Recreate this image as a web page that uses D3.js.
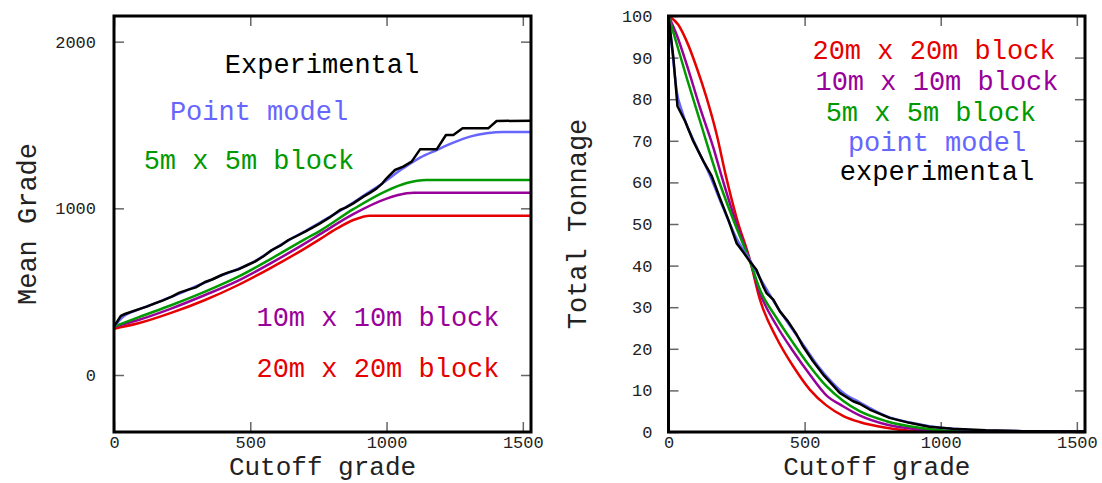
<!DOCTYPE html>
<html>
<head>
<meta charset="utf-8">
<script src="https://cdn.jsdelivr.net/npm/d3@7"></script>
<style>
  body { margin: 0; background: #fff; }
  text { font-family: "Liberation Mono", "DejaVu Sans Mono", monospace; }
</style>
</head>
<body>
<div id="chart"></div>
<script>
// ---- data ----
const xTicks = [0, 500, 1000, 1500];
const gradeTicks = [0, 1000, 2000];
const tonnageTicks = [0, 10, 20, 30, 40, 50, 60, 70, 80, 90, 100];

// left panel: mean grade above cutoff  [cutoff, grade]
const gradeExperimental = [[0,290],[25,355],[40,366],[89,394],[120,410],[150,430],[180,448],[212,470],[240,494],[273,512],[300,526],[334,558],[360,573],[395,600],[420,616],[456,634],[490,660],[517,680],[550,714],[579,750],[610,776],[640,810],[670,834],[701,860],[730,886],[756,910],[790,944],[829,990],[850,1004],[878,1030],[915,1070],[940,1094],[964,1120],[985,1150],[1000,1180],[1031,1230],[1061,1250],[1092,1280],[1123,1354],[1184,1354],[1218,1440],[1245,1440],[1279,1480],[1373,1480],[1404,1524],[1530,1526]];
const gradePoint = [[0,290],[30,345],[89,392],[150,430],[212,470],[273,512],[334,555],[395,598],[456,636],[517,683],[579,748],[640,808],[701,862],[756,915],[829,985],[878,1035],[915,1075],[976,1140],[1061,1240],[1123,1304],[1184,1350],[1245,1394],[1306,1430],[1367,1450],[1428,1458],[1530,1458]];
const grade5m = [[0,290],[89,346],[212,420],[334,500],[456,590],[579,700],[701,815],[756,865],[878,995],[1000,1105],[1074,1152],[1147,1170],[1530,1170]];
const grade10m = [[0,290],[89,330],[212,400],[334,480],[456,566],[579,674],[701,790],[756,845],[878,965],[1000,1058],[1074,1090],[1100,1093],[1530,1093]];
const grade20m = [[0,278],[89,310],[212,374],[334,450],[456,540],[579,646],[701,760],[756,815],[817,878],[878,930],[939,956],[1530,956]];

// right panel: total tonnage above cutoff  [cutoff, tonnage]
const tonExperimental = [[0,100],[18,89.9],[33,78.3],[61,74.7],[91,69.9],[128,65.1],[159,61.5],[189,56.2],[220,51],[250,45.4],[275,43.2],[299,41.0],[323,39.0],[348,35.0],[360,33.4],[385,31.8],[409,29.0],[439,26.6],[470,23.5],[494,20.6],[531,17.0],[568,13.8],[600,11.5],[629,9.4],[678,7.4],[702,6.8],[739,5.4],[812,3.4],[885,2.2],[958,1.25],[1044,0.8],[1166,0.4],[1300,0.2],[1530,0.1]];
const tonPoint = [[0,100],[15,91],[30,82],[50,77],[100,69],[150,62],[200,54],[250,46.5],[300,41.2],[350,35.4],[400,30],[450,25.2],[500,20.5],[550,15.8],[600,12],[650,9],[700,7.2],[750,5.4],[800,3.8],[900,2.1],[1000,1.0],[1100,0.5],[1200,0.3],[1300,0.2],[1530,0.1]];
const ton5m = [[0,100],[24,94.7],[67,85.1],[116,74.7],[177,61.9],[250,49],[299,41.1],[336,34.2],[397,27.4],[458,21.4],[519,15.8],[580,11.0],[641,7.5],[702,5.0],[800,2.6],[922,1.0],[1000,0.4],[1100,0.1],[1530,0]];
const ton10m = [[0,100],[30,95.5],[67,88.3],[116,77.9],[165,68.3],[195,61.5],[250,50],[299,41.2],[336,33.4],[397,25.6],[458,19.4],[519,13.8],[580,8.8],[641,6.2],[702,4.0],[800,1.8],[922,0.6],[1000,0.2],[1100,0],[1530,0]];
const ton20m = [[0,100],[36,97.9],[67,93.9],[104,87.5],[140,80.3],[177,71.5],[211,61.5],[250,51.5],[299,41.4],[336,31.8],[397,22.6],[458,15.8],[519,10.2],[580,6.4],[641,3.9],[702,2.4],[800,1.0],[900,0.2],[1000,0],[1530,0]];

// colours
const colRed = "#e60000", colPurple = "#990099", colGreen = "#009900", colBlue = "#6666ff", colBlack = "#000";

// Create an SVG canvas
const width = 1102, height = 483;
const svg = d3.select("#chart").append("svg")
    .attr("width", width)
    .attr("height", height);

svg.append("rect").attr("width", width).attr("height", height).attr("fill", "#fff");

function drawPanel(p) {
    const x = d3.scaleLinear().domain([0, 1530]).range([p.left, p.right]);
    const y = d3.scaleLinear().domain(p.yDomain).range([432, 16]);

    const clipId = "clip-" + p.id;
    svg.append("clipPath").attr("id", clipId)
        .append("rect")
        .attr("x", p.left).attr("y", 16)
        .attr("width", p.right - p.left).attr("height", 416);

    // ticks pointing inward on all four sides
    const tickStyle = g => {
        g.select(".domain").remove();
        g.selectAll(".tick line").attr("stroke", "#666").attr("stroke-width", 1.5);
        g.selectAll(".tick text")
            .attr("fill", "#222")
            .style("font-size", "17px");
    };
    svg.append("g").attr("transform", "translate(0,432)")
        .call(d3.axisBottom(x).tickValues(xTicks).tickSize(-10).tickPadding(4).tickFormat(d3.format("d")))
        .call(tickStyle);
    svg.append("g").attr("transform", "translate(0,16)")
        .call(d3.axisTop(x).tickValues(xTicks).tickSize(-10).tickFormat(""))
        .call(tickStyle);
    svg.append("g").attr("transform", `translate(${p.left},0)`)
        .call(d3.axisLeft(y).tickValues(p.yTicks).tickSize(-10).tickPadding(p.yPad).tickFormat(d3.format("d")))
        .call(tickStyle);
    svg.append("g").attr("transform", `translate(${p.right},0)`)
        .call(d3.axisRight(y).tickValues(p.yTicks).tickSize(-10).tickFormat(""))
        .call(tickStyle);

    // curves
    const curves = svg.append("g").attr("clip-path", `url(#${clipId})`);
    p.series.forEach(s => {
        const line = d3.line()
            .x(d => x(d[0]))
            .y(d => y(d[1]))
            .curve(s.smooth ? d3.curveMonotoneX : d3.curveLinear);
        curves.append("path")
            .datum(s.data)
            .attr("fill", "none")
            .attr("stroke", s.color)
            .attr("stroke-width", 2.5)
            .attr("stroke-linejoin", "round")
            .attr("d", line);
    });

    // labels inside the plot
    p.labels.forEach(l => {
        svg.append("text")
            .attr("x", l.x).attr("y", l.y)
            .attr("text-anchor", "middle")
            .attr("fill", l.color)
            .style("font-size", "27px")
            .text(l.text);
    });

    // frame
    svg.append("rect")
        .attr("x", p.left).attr("y", 16)
        .attr("width", p.right - p.left).attr("height", 416)
        .attr("fill", "none")
        .attr("stroke", "#000")
        .attr("stroke-width", 3);

    // axis titles
    svg.append("text")
        .attr("x", (p.left + p.right) / 2).attr("y", 475)
        .attr("text-anchor", "middle")
        .attr("fill", "#222")
        .style("font-size", "26px")
        .text("Cutoff grade");
    svg.append("text")
        .attr("transform", `translate(${p.titleX},224) rotate(-90)`)
        .attr("text-anchor", "middle")
        .attr("fill", "#222")
        .style("font-size", "27px")
        .text(p.yTitle);
}

drawPanel({
    id: "grade", left: 114, right: 531,
    yDomain: [-342, 2154], yTicks: gradeTicks, yPad: 18,
    yTitle: "Mean Grade", titleX: 36,
    series: [
        { data: grade20m, color: colRed, smooth: true },
        { data: grade10m, color: colPurple, smooth: true },
        { data: grade5m, color: colGreen, smooth: true },
        { data: gradePoint, color: colBlue, smooth: true },
        { data: gradeExperimental, color: colBlack, smooth: false }
    ],
    labels: [
        { text: "Experimental", x: 322, y: 73, color: colBlack },
        { text: "Point model", x: 259, y: 120, color: colBlue },
        { text: "5m x 5m block", x: 249, y: 169, color: colGreen },
        { text: "10m x 10m block", x: 378, y: 326, color: colPurple },
        { text: "20m x 20m block", x: 378, y: 377, color: colRed }
    ]
});

drawPanel({
    id: "ton", left: 668.5, right: 1085,
    yDomain: [0, 100], yTicks: tonnageTicks, yPad: 16,
    yTitle: "Total Tonnage", titleX: 586,
    series: [
        { data: ton20m, color: colRed, smooth: true },
        { data: ton10m, color: colPurple, smooth: true },
        { data: ton5m, color: colGreen, smooth: true },
        { data: tonPoint, color: colBlue, smooth: true },
        { data: tonExperimental, color: colBlack, smooth: false }
    ],
    labels: [
        { text: "20m x 20m block", x: 934, y: 59, color: colRed },
        { text: "10m x 10m block", x: 937, y: 90, color: colPurple },
        { text: "5m x 5m block", x: 931, y: 121, color: colGreen },
        { text: "point model", x: 937, y: 151, color: colBlue },
        { text: "experimental", x: 937, y: 180, color: colBlack }
    ]
});
</script>
</body>
</html>
